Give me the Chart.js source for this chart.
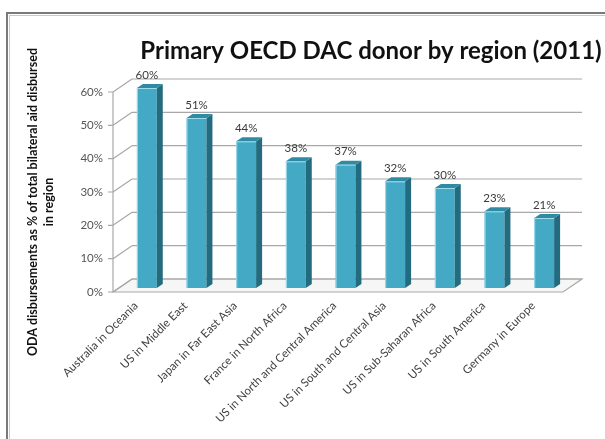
<!DOCTYPE html>
<html><head><meta charset="utf-8">
<script src="https://cdn.jsdelivr.net/npm/chart.js@4"></script>
<style>html,body{margin:0;padding:0;background:#fff}canvas{display:block}</style>
</head><body>
<canvas id="c" width="605" height="439"></canvas>
<script>
const categories = ['Australia in Oceania','US in Middle East','Japan in Far East Asia','France in North Africa','US in North and Central America','US in South and Central Asia','US in Sub-Saharan Africa','US in South America','Germany in Europe'];
const values = [60, 51, 44, 38, 37, 32, 30, 23, 21];
const yMin = 0, yMax = 60, yStep = 10;
const chartTitle = 'Primary OECD DAC donor by region (2011)';
const yTitleLines = ['ODA disbursements as % of total bilateral aid disbursed', 'in region'];

const FONT = 'Lato, "Open Sans", sans-serif';
const BAR_DX = 6, BAR_DY = -4;      // bar plane offset from front plane
const BACK_DX = 19, BACK_DY = -13;  // back wall offset from front plane
const FACE_DX = 6, FACE_DY = -4;    // bar depth

const pct = v => v + '%';

const threeD = {
  id: 'threeD',
  beforeDraw(chart) {
    const ctx = chart.ctx;
    ctx.save();
    ctx.fillStyle = '#fff';
    ctx.fillRect(0, 0, chart.width, chart.height);
    // frame
    ctx.strokeStyle = '#7a7a7a'; ctx.lineWidth = 2;
    ctx.strokeRect(7, 13, 800, 800);
    ctx.strokeStyle = '#c8c8c8'; ctx.lineWidth = 1;
    ctx.strokeRect(9.5, 15.5, 800, 800);
    // title
    ctx.fillStyle = '#111';
    ctx.font = 'bold 24px ' + FONT;
    ctx.textAlign = 'center'; ctx.textBaseline = 'alphabetic';
    ctx.fillText(chartTitle, 371, 59);
    // y title
    ctx.font = 'bold 12.5px ' + FONT;
    ctx.textBaseline = 'middle';
    const xs = [33, 49];
    yTitleLines.forEach((t, i) => {
      ctx.save();
      ctx.translate(xs[i], 202);
      ctx.rotate(-Math.PI / 2);
      ctx.fillText(t, 0, 0);
      ctx.restore();
    });
    ctx.restore();
  },
  beforeDatasetsDraw(chart) {
    const ctx = chart.ctx, a = chart.chartArea, y = chart.scales.y;
    const fx = a.left - 3, rx = a.right;
    const y0 = y.getPixelForValue(yMin);
    ctx.save();
    ctx.lineWidth = 1.2;
    ctx.strokeStyle = '#a8a8a8';
    // floor
    ctx.beginPath();
    ctx.moveTo(fx, y0); ctx.lineTo(rx, y0);
    ctx.lineTo(rx + BACK_DX, y0 + BACK_DY); ctx.lineTo(fx + BACK_DX, y0 + BACK_DY);
    ctx.closePath();
    ctx.fillStyle = '#f6f6f6'; ctx.fill(); ctx.stroke();
    // back wall gridlines + diagonals + ticks
    for (let v = yMin; v <= yMax; v += yStep) {
      const py = y.getPixelForValue(v);
      ctx.beginPath();
      ctx.moveTo(fx + BACK_DX, py + BACK_DY); ctx.lineTo(rx + BACK_DX, py + BACK_DY);
      ctx.moveTo(fx, py); ctx.lineTo(fx + BACK_DX, py + BACK_DY);
      ctx.moveTo(fx - 5, py); ctx.lineTo(fx, py);
      ctx.stroke();
    }
    // front axis
    ctx.beginPath();
    ctx.moveTo(fx, y.getPixelForValue(yMax)); ctx.lineTo(fx, y0);
    ctx.stroke();
    ctx.restore();
    ctx.save();
    ctx.translate(BAR_DX, BAR_DY);
  },
  afterDatasetsDraw(chart) {
    const ctx = chart.ctx;
    const meta = chart.getDatasetMeta(0);
    meta.data.forEach((el, i) => {
      const l = el.x - el.width / 2, r = el.x + el.width / 2, t = el.y, b = el.base;
      // side face
      ctx.beginPath();
      ctx.moveTo(r, t); ctx.lineTo(r + FACE_DX, t + FACE_DY);
      ctx.lineTo(r + FACE_DX, b + FACE_DY); ctx.lineTo(r, b); ctx.closePath();
      ctx.fillStyle = '#236c80'; ctx.fill();
      // top face
      ctx.beginPath();
      ctx.moveTo(l, t); ctx.lineTo(l + FACE_DX, t + FACE_DY);
      ctx.lineTo(r + FACE_DX, t + FACE_DY); ctx.lineTo(r, t); ctx.closePath();
      ctx.fillStyle = '#2f8aa4'; ctx.fill();
      // highlight edges
      ctx.strokeStyle = '#9fdcec'; ctx.lineWidth = 1;
      ctx.beginPath();
      ctx.moveTo(l + 0.5, b); ctx.lineTo(l + 0.5, t + 0.5); ctx.lineTo(r, t + 0.5);
      ctx.stroke();
      // data label
      ctx.fillStyle = '#3a3a3a';
      ctx.font = '11.5px ' + FONT;
      ctx.textAlign = 'center'; ctx.textBaseline = 'middle';
      ctx.fillText(pct(values[i]), el.x, t - 13);
    });
    ctx.restore();
  }
};

new Chart(document.getElementById('c'), {
  type: 'bar',
  data: {
    labels: categories,
    datasets: [{
      data: values,
      backgroundColor: '#44a9c5',
      borderWidth: 0,
      barPercentage: 0.4,
      categoryPercentage: 1.0,
      clip: false
    }]
  },
  options: {
    responsive: false,
    animation: false,
    layout: { padding: { top: 92, right: 42, bottom: 0, left: 0 } },
    plugins: { legend: { display: false }, tooltip: { enabled: false }, title: { display: false } },
    scales: {
      x: {
        grid: { display: false }, border: { display: false },
        ticks: { font: { family: FONT, size: 11.5 }, color: '#404040', minRotation: 45, maxRotation: 45, autoSkip: false, padding: -1, labelOffset: -5 },
        afterFit(s) { s.height = 147; }
      },
      y: {
        min: yMin, max: yMax,
        grid: { display: false, drawTicks: false }, border: { display: false },
        ticks: { stepSize: yStep, callback: v => pct(v), font: { family: FONT, size: 11.5 }, color: '#555', padding: 13 },
        afterFit(s) { s.width = 116; }
      }
    }
  },
  plugins: [threeD]
});
</script>
</body></html>
